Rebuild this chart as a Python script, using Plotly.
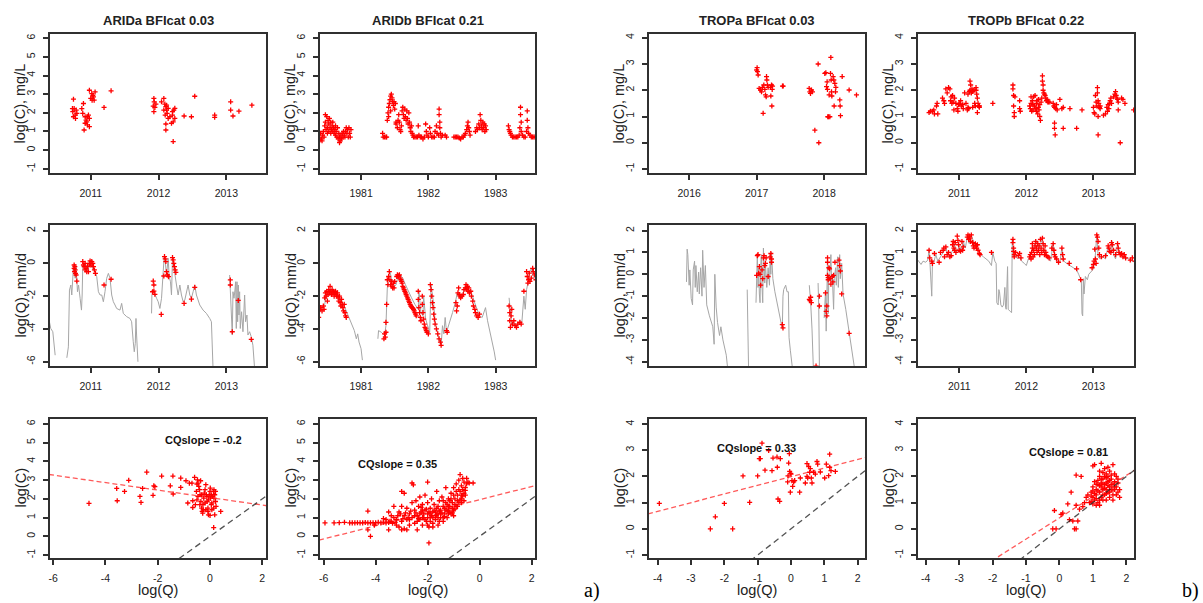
import plotly.graph_objects as go

FONT = "Arial, 'Liberation Sans', Helvetica, sans-serif"

titles = ["ARIDa BFIcat 0.03", "ARIDb BFIcat 0.21", "TROPa BFIcat 0.03", "TROPb BFIcat 0.22"]
year_ticks = [[2011, 2012, 2013], [1981, 1982, 1983], [2016, 2017, 2018], [2011, 2012, 2013]]
cq_slopes = [-0.2, 0.35, 0.33, 0.81]
cq_intercepts = [2.07, 1.96, 1.99, 0.42]
c_ticks = [[-1, 0, 1, 2, 3, 4, 5, 6], [-1, 0, 1, 2, 3, 4, 5, 6], [-1, 0, 1, 2, 3, 4], [-1, 0, 1, 2, 3, 4]]
q_ticks = [[-6, -4, -2, 0, 2], [-6, -4, -2, 0, 2], [-4, -3, -2, -1, 0, 1, 2], [-4, -3, -2, -1, 0, 1, 2]]
panel_tags = ["a)", "b)"]
row_ytitles = ["log(C), mg/L", "log(Q), mm/d", "log(C)"]
cq_xtitle = "log(Q)"

aridA_C = [
    (2010.745, 2.73), (2010.755, 2.23), (2010.735, 2.06), (2010.77, 1.88), (2010.745, 1.79),
    (2010.785, 2.15), (2010.795, 1.97), (2010.73, 2.23), (2010.775, 1.70), (2010.892, 2.50),
    (2010.882, 1.97), (2010.902, 1.08), (2010.917, 1.44), (2010.931, 1.61), (2010.951, 1.79),
    (2010.966, 1.88), (2010.98, 1.70), (2010.951, 1.35), (2010.941, 1.52), (2010.98, 1.26),
    (2010.917, 1.79), (2010.868, 2.23), (2010.98, 3.21), (2011.015, 3.03), (2011.04, 2.86),
    (2011.05, 2.68), (2011.0, 2.77), (2011.064, 3.12), (2011.03, 2.94), (2011.02, 2.68),
    (2011.196, 2.29), (2011.30, 3.18), (2011.931, 2.77), (2011.936, 2.59), (2011.922, 2.36),
    (2011.946, 2.29), (2011.931, 2.06), (2011.961, 2.47), (2012.044, 2.59), (2012.078, 2.77),
    (2012.093, 2.47), (2012.108, 2.33), (2012.118, 2.15), (2012.127, 1.97), (2012.098, 1.88),
    (2012.142, 2.24), (2012.118, 2.41), (2012.078, 2.15), (2012.108, 1.40), (2012.108, 1.08),
    (2012.216, 0.46), (2012.142, 1.70), (2012.167, 1.79), (2012.206, 1.88), (2012.225, 2.15),
    (2012.24, 2.24), (2012.216, 1.52), (2012.191, 1.44), (2012.24, 1.70), (2012.206, 2.06),
    (2012.377, 1.83), (2012.485, 1.79), (2012.534, 2.89), (2012.828, 1.88), (2012.828, 1.76),
    (2013.064, 2.59), (2013.064, 2.15), (2013.098, 1.83), (2013.186, 2.09), (2013.377, 2.41),
]
aridA_Q_line = [
    [(2010.39, -3.56), (2010.41, -3.97), (2010.44, -4.17), (2010.475, -5.6)],
    [(2010.647, -5.76), (2010.67, -5.09), (2010.686, -1.63), (2010.706, -1.32), (2010.72, -1.93),
     (2010.735, -1.12), (2010.745, -0.2), (2010.77, -0.91), (2010.784, -0.2), (2010.804, -1.73),
     (2010.82, -1.32), (2010.843, -2.13), (2010.863, -2.85), (2010.873, -1.93), (2010.882, -0.2),
     (2010.902, 0.0), (2010.92, -0.4), (2010.94, -0.1), (2010.96, -0.51), (2010.98, 0.11),
     (2011.0, 0.0), (2011.02, -0.2), (2011.04, -0.4), (2011.064, -0.51), (2011.088, -0.81),
     (2011.113, -1.73), (2011.137, -1.93), (2011.162, -1.93), (2011.186, -2.34), (2011.21, -1.73),
     (2011.235, -0.91), (2011.26, -0.61), (2011.284, -0.91), (2011.309, -1.93), (2011.333, -2.34),
     (2011.358, -2.54), (2011.382, -2.75), (2011.431, -2.85), (2011.456, -2.44), (2011.48, -3.05),
     (2011.53, -3.25), (2011.578, -3.36), (2011.603, -3.56), (2011.627, -4.78), (2011.642, -5.39),
     (2011.657, -4.88), (2011.667, -3.36), (2011.676, -4.37), (2011.696, -6.0)],
    [(2011.897, -3.05), (2011.902, -1.93), (2011.922, -1.63), (2011.946, -1.93), (2011.971, -2.13),
     (2011.995, -2.34), (2012.02, -2.75), (2012.044, -2.13), (2012.069, -0.81), (2012.083, 0.41),
     (2012.098, 0.11), (2012.118, -0.71), (2012.142, 0.31), (2012.157, -0.81), (2012.176, -1.12),
     (2012.191, -1.93), (2012.206, 0.31), (2012.225, -0.3), (2012.245, -0.91), (2012.265, -1.32),
     (2012.289, -1.93), (2012.314, -1.32), (2012.338, -1.93), (2012.363, -2.34), (2012.387, -2.24),
     (2012.412, -1.73), (2012.436, -1.32), (2012.461, -1.93), (2012.485, -2.13), (2012.51, -1.73),
     (2012.534, -1.32), (2012.559, -1.93), (2012.608, -2.54), (2012.657, -2.85), (2012.706, -3.05),
     (2012.755, -3.36), (2012.78, -3.56), (2012.804, -6.41)],
    [(2013.049, -0.71), (2013.059, -1.73), (2013.074, -3.87), (2013.088, -4.37), (2013.098, -1.73),
     (2013.113, -2.13), (2013.127, -1.63), (2013.137, -1.12), (2013.147, -3.97), (2013.157, -1.12),
     (2013.167, -3.56), (2013.176, -1.32), (2013.186, -3.15), (2013.196, -1.73), (2013.206, -3.97),
     (2013.225, -2.95), (2013.245, -4.17), (2013.27, -1.93), (2013.284, -3.56), (2013.304, -3.15),
     (2013.319, -4.37), (2013.343, -4.17), (2013.368, -4.48), (2013.392, -4.99), (2013.417, -6.41)],
]
aridA_Q_pts = [
    (2010.755, -0.10), (2010.755, -0.30), (2010.76, -0.51), (2010.765, -0.2), (2010.77, -0.40),
    (2010.775, -0.61), (2010.784, -0.71), (2010.794, -1.08), (2010.882, 0.11), (2010.892, -0.10),
    (2010.902, -0.2), (2010.917, -0.40), (2010.931, -0.30), (2010.951, -0.2), (2010.966, -0.51),
    (2010.98, 0.0), (2010.99, 0.15), (2011.0, -0.1), (2011.015, 0.11), (2011.03, 0.0),
    (2011.04, -0.2), (2011.054, -0.4), (2011.069, -0.61), (2010.941, -0.51), (2010.917, 0.0),
    (2011.196, -1.32), (2011.30, -0.97), (2011.922, -1.08), (2011.931, -1.32), (2011.931, -1.69),
    (2011.946, -1.89), (2011.912, -1.73), (2012.04, -3.11), (2012.078, -0.77), (2012.088, 0.41),
    (2012.098, 0.27), (2012.108, 0.11), (2012.118, -0.51), (2012.132, -0.71), (2012.147, -0.81),
    (2012.206, 0.35), (2012.216, 0.21), (2012.225, 0.0), (2012.235, -0.2), (2012.245, -0.4),
    (2012.255, -0.55), (2012.377, -2.44), (2012.485, -2.18), (2012.534, -1.46), (2013.059, -1.01),
    (2013.059, -1.32), (2013.088, -4.17), (2013.176, -2.26), (2013.368, -4.64),
]
aridA_CQ = [
    (-4.63, 1.76), (-3.57, 2.56), (-3.55, 1.90), (-3.27, 2.40), (-3.11, 2.99), (-2.68, 2.13),
    (-2.64, 1.81), (-2.58, 2.56), (-2.42, 3.43), (-2.15, 2.70), (-2.11, 2.65), (-2.18, 2.19),
    (-1.85, 3.22), (-1.52, 2.70), (-1.42, 3.22), (-1.41, 2.26), (-1.12, 3.11), (-1.12, 2.61),
    (-0.92, 2.97), (-0.85, 1.78), (-0.79, 2.84), (-0.69, 2.84), (-0.66, 1.90), (-0.66, 1.54),
    (-0.59, 3.15), (-0.52, 2.40), (-0.48, 3.02), (-0.46, 2.84), (-0.43, 2.67), (-0.40, 2.49),
    (-0.38, 2.22), (-0.35, 1.86), (-0.32, 1.51), (-0.30, 1.33), (-0.27, 1.69), (-0.24, 2.04),
    (-0.22, 2.31), (-0.19, 2.49), (-0.16, 2.76), (-0.14, 2.22), (-0.11, 1.86), (-0.08, 1.51),
    (-0.06, 1.15), (-0.03, 2.22), (0.0, 2.40), (0.02, 2.04), (0.05, 1.69), (0.07, 1.42),
    (0.10, 2.13), (0.13, 2.40), (0.15, 2.49), (0.18, 2.22), (0.21, 1.86), (0.23, 1.60),
    (-0.46, 2.13), (-0.39, 1.69), (-0.32, 2.22), (-0.26, 1.42), (-0.19, 1.78), (-0.12, 2.13),
    (-0.06, 1.95), (0.01, 2.58), (0.07, 1.78), (0.14, 1.51), (0.21, 2.40), (-0.56, 1.69),
    (-0.50, 1.95), (-0.28, 1.24), (-0.16, 1.42), (-0.08, 1.33), (0.0, 1.12), (0.05, 2.22),
    (0.15, 2.04), (0.18, 1.15), (0.41, 1.33), (0.14, 0.47), (-0.36, 2.97), (-0.50, 2.79),
]

aridB_C = [
    (1980.38, 0.7), (1980.39, 0.55), (1980.40, 0.9), (1980.41, 0.6), (1980.42, 0.5), (1980.43, 0.8),
    (1980.44, 1.0), (1980.45, 0.7), (1980.46, 1.3), (1980.47, 1.9), (1980.47, 1.5), (1980.48, 1.1),
    (1980.49, 1.8), (1980.50, 1.2), (1980.50, 0.9), (1980.51, 1.6), (1980.52, 1.4), (1980.52, 1.0),
    (1980.53, 1.7), (1980.54, 1.2), (1980.55, 1.5), (1980.55, 0.9), (1980.56, 1.1), (1980.57, 1.3),
    (1980.58, 1.0), (1980.58, 1.5), (1980.59, 1.2), (1980.60, 0.9), (1980.61, 1.1), (1980.62, 1.3),
    (1980.62, 0.8), (1980.63, 1.0), (1980.64, 0.7), (1980.65, 1.2), (1980.66, 0.6), (1980.67, 0.9),
    (1980.68, 0.4), (1980.68, 0.7), (1980.69, 0.5), (1980.70, 0.8), (1980.71, 0.6), (1980.72, 0.9),
    (1980.73, 0.7), (1980.74, 1.0), (1980.75, 0.8), (1980.76, 0.7), (1980.77, 1.0), (1980.78, 1.2),
    (1980.79, 0.9), (1980.80, 1.1), (1980.81, 0.7), (1980.82, 1.2), (1980.83, 0.9), (1980.84, 0.7),
    (1980.85, 1.1),
    (1981.32, 0.9), (1981.33, 0.7), (1981.35, 0.7), (1981.37, 0.7), (1981.38, 0.7),
    (1981.39, 1.6), (1981.40, 2.0), (1981.41, 2.3), (1981.42, 2.5), (1981.43, 2.7), (1981.44, 2.9),
    (1981.45, 3.0), (1981.46, 2.8), (1981.47, 2.6), (1981.48, 2.4), (1981.49, 2.6), (1981.50, 2.2),
    (1981.51, 2.5), (1981.52, 1.5), (1981.41, 1.8), (1981.44, 2.1),
    (1981.52, 1.4), (1981.54, 1.2), (1981.55, 1.6), (1981.56, 1.9), (1981.57, 1.5), (1981.58, 1.1),
    (1981.59, 1.0), (1981.60, 1.3), (1981.61, 2.1), (1981.62, 2.3), (1981.63, 1.9), (1981.64, 1.7),
    (1981.65, 2.2), (1981.66, 1.8), (1981.67, 1.6), (1981.68, 2.1), (1981.69, 1.7), (1981.70, 1.4),
    (1981.71, 2.0), (1981.72, 1.5), (1981.73, 1.2), (1981.74, 1.0), (1981.75, 1.3), (1981.76, 0.9),
    (1981.77, 0.8), (1981.78, 0.7), (1981.80, 0.7), (1981.82, 0.7), (1981.84, 0.7), (1981.85, 1.3),
    (1981.86, 0.8), (1981.88, 0.7), (1981.90, 0.7), (1981.92, 0.6), (1981.94, 0.7), (1981.96, 1.4),
    (1981.97, 1.0), (1981.98, 0.8), (1982.00, 0.7), (1982.02, 1.2), (1982.03, 0.9), (1982.05, 0.7),
    (1982.07, 0.7), (1982.09, 0.7), (1982.10, 1.0), (1982.12, 1.3), (1982.13, 0.9), (1982.15, 0.8),
    (1982.16, 2.2), (1982.16, 1.9), (1982.17, 1.5), (1982.17, 1.2), (1982.18, 0.9), (1982.19, 0.7),
    (1982.21, 0.8), (1982.25, 0.8), (1982.27, 0.7),
    (1982.38, 0.7), (1982.40, 0.7), (1982.42, 0.7), (1982.44, 0.7), (1982.46, 0.65), (1982.48, 0.6),
    (1982.50, 0.7), (1982.52, 0.7), (1982.54, 0.8), (1982.55, 0.9), (1982.57, 1.1), (1982.58, 1.3),
    (1982.59, 1.5), (1982.60, 1.2), (1982.61, 1.0), (1982.62, 0.8),
    (1982.70, 1.0), (1982.72, 1.2), (1982.73, 1.1), (1982.75, 1.4), (1982.76, 1.2), (1982.77, 1.9),
    (1982.78, 1.6), (1982.79, 1.3), (1982.80, 1.1), (1982.81, 1.5), (1982.82, 1.2), (1982.83, 1.4),
    (1982.84, 1.0), (1982.85, 1.3), (1982.86, 1.1),
    (1983.19, 1.3), (1983.20, 1.1), (1983.21, 1.0), (1983.22, 0.9), (1983.23, 0.8), (1983.25, 0.7),
    (1983.27, 0.7), (1983.29, 0.7), (1983.31, 0.7), (1983.33, 0.7), (1983.35, 0.8), (1983.36, 1.2),
    (1983.37, 2.3), (1983.37, 1.9), (1983.38, 1.5), (1983.38, 1.0), (1983.40, 0.8), (1983.42, 0.7),
    (1983.44, 0.7), (1983.46, 1.0), (1983.47, 2.1), (1983.47, 1.6), (1983.48, 1.2), (1983.49, 0.9),
    (1983.51, 0.8), (1983.53, 0.7), (1983.55, 0.7), (1983.57, 0.7), (1983.59, 0.7),
]
aridB_Q_line = [
    [(1980.37, -3.2), (1980.40, -2.8), (1980.43, -2.6), (1980.46, -2.5), (1980.48, -2.0), (1980.52, -1.7),
     (1980.56, -1.6), (1980.60, -1.7), (1980.65, -1.9), (1980.70, -2.2), (1980.75, -2.6), (1980.80, -3.1),
     (1980.85, -3.6), (1980.88, -3.8), (1980.90, -4.1), (1980.93, -4.6), (1980.95, -4.3), (1980.97, -4.8),
     (1981.00, -5.2), (1981.02, -5.9)],
    [(1981.25, -4.6), (1981.26, -4.1), (1981.30, -4.2), (1981.33, -4.3), (1981.35, -4.4), (1981.37, -3.8),
     (1981.38, -2.5), (1981.39, -1.5), (1981.41, -0.8), (1981.43, -0.5), (1981.45, -0.9), (1981.48, -1.2),
     (1981.50, -1.4), (1981.52, -1.3), (1981.55, -0.8), (1981.58, -0.7), (1981.62, -0.9), (1981.66, -1.3),
     (1981.70, -1.7), (1981.75, -2.1), (1981.80, -2.5), (1981.85, -2.8), (1981.86, -1.7), (1981.89, -3.0),
     (1981.92, -3.2), (1981.93, -2.0), (1981.96, -3.4), (1982.00, -3.9), (1982.02, -4.2), (1982.04, -1.3),
     (1982.08, -2.5), (1982.10, -3.5), (1982.13, -4.2), (1982.16, -4.7), (1982.19, -5.0), (1982.21, -3.8),
     (1982.23, -4.3), (1982.25, -3.3), (1982.27, -4.2), (1982.30, -3.8), (1982.33, -3.5), (1982.36, -3.0),
     (1982.40, -2.4), (1982.43, -1.8), (1982.46, -2.0), (1982.50, -2.1), (1982.53, -1.6), (1982.57, -1.3),
     (1982.60, -1.6), (1982.64, -1.8), (1982.68, -2.3), (1982.72, -2.8), (1982.76, -3.2), (1982.80, -3.3),
     (1982.85, -2.7), (1982.88, -3.5), (1982.92, -4.2), (1982.95, -4.8), (1982.98, -5.4), (1983.00, -5.9)],
    [(1983.20, -2.1), (1983.22, -3.0), (1983.24, -3.8), (1983.27, -3.6), (1983.30, -3.9), (1983.33, -3.7),
     (1983.36, -3.5), (1983.39, -3.6), (1983.42, -2.0), (1983.44, -2.8), (1983.46, -1.6), (1983.48, -1.2),
     (1983.50, -0.6), (1983.53, -0.3), (1983.56, -0.8), (1983.60, -1.0)],
]
aridB_Q_pts = [
    (1980.37, -3.3), (1980.39, -2.8), (1980.40, -2.7), (1980.42, -2.9), (1980.44, -2.6), (1980.45, -2.8),
    (1980.46, -2.1), (1980.47, -1.8), (1980.48, -2.0), (1980.49, -1.7), (1980.50, -2.3), (1980.51, -1.9),
    (1980.52, -1.6), (1980.53, -1.8), (1980.54, -1.4), (1980.55, -1.7), (1980.56, -1.9), (1980.57, -1.6),
    (1980.58, -1.8), (1980.59, -1.7), (1980.60, -2.0), (1980.61, -1.8), (1980.62, -1.7), (1980.63, -1.9),
    (1980.64, -2.0), (1980.65, -1.8), (1980.66, -2.1), (1980.67, -2.3), (1980.68, -2.0), (1980.69, -2.4),
    (1980.70, -2.6), (1980.71, -2.2), (1980.72, -2.5), (1980.73, -2.7), (1980.74, -2.9), (1980.75, -2.5),
    (1980.76, -3.0), (1980.77, -3.2), (1980.78, -3.3),
    (1981.34, -4.6), (1981.35, -4.3), (1981.36, -4.5), (1981.37, -3.6), (1981.37, -4.2), (1981.38, -2.5),
    (1981.39, -1.0), (1981.40, -1.3), (1981.41, -0.8), (1981.42, -0.5), (1981.43, -1.0), (1981.44, -1.3),
    (1981.45, -1.1), (1981.46, -1.4), (1981.47, -1.5), (1981.48, -1.2), (1981.49, -1.5), (1981.50, -1.1),
    (1981.53, -0.8), (1981.54, -0.7), (1981.55, -0.8), (1981.56, -0.75), (1981.57, -0.7), (1981.58, -0.9),
    (1981.59, -1.0), (1981.60, -1.1), (1981.61, -1.2), (1981.62, -1.4), (1981.63, -1.5), (1981.64, -1.6),
    (1981.65, -1.7), (1981.66, -1.8), (1981.67, -1.9), (1981.68, -2.0), (1981.69, -2.1), (1981.70, -2.2),
    (1981.71, -2.3), (1981.72, -2.4), (1981.73, -2.5), (1981.74, -2.6), (1981.75, -2.65), (1981.76, -2.7),
    (1981.77, -2.75), (1981.78, -2.8), (1981.79, -2.9), (1981.80, -3.0), (1981.81, -3.1), (1981.82, -3.2),
    (1981.85, -1.7), (1981.85, -2.2), (1981.86, -2.7), (1981.87, -3.0), (1981.88, -3.3), (1981.89, -3.5),
    (1981.91, -2.0), (1981.91, -2.5), (1981.92, -3.0), (1981.93, -3.4), (1981.94, -3.7), (1981.95, -3.9),
    (1981.96, -4.0), (1981.97, -4.1), (1981.98, -4.2), (1982.00, -4.3), (1982.03, -1.3), (1982.04, -1.6),
    (1982.05, -2.0), (1982.06, -2.4), (1982.07, -2.7), (1982.08, -3.1), (1982.09, -3.4), (1982.10, -3.7),
    (1982.12, -4.0), (1982.14, -4.3), (1982.16, -4.6), (1982.18, -4.8), (1982.19, -5.0), (1982.27, -4.1),
    (1982.28, -4.2),
    (1982.41, -2.4), (1982.42, -2.9), (1982.43, -2.6), (1982.44, -1.8), (1982.45, -1.5), (1982.46, -1.9),
    (1982.47, -2.0), (1982.48, -2.1), (1982.50, -2.0), (1982.52, -1.9), (1982.53, -1.6), (1982.55, -1.5),
    (1982.56, -1.3), (1982.57, -1.6), (1982.58, -1.4), (1982.59, -1.7), (1982.60, -1.5), (1982.61, -1.8),
    (1982.63, -1.7), (1982.64, -2.0), (1982.66, -2.3), (1982.67, -2.6), (1982.69, -2.8), (1982.70, -3.0),
    (1982.72, -3.2), (1982.74, -3.3), (1982.76, -3.1),
    (1983.20, -2.6), (1983.21, -3.0), (1983.21, -3.5), (1983.22, -3.9), (1983.23, -3.2), (1983.24, -2.8),
    (1983.25, -3.7), (1983.27, -3.5), (1983.29, -3.8), (1983.31, -3.9), (1983.33, -3.7), (1983.36, -3.6),
    (1983.38, -3.7), (1983.42, -1.7), (1983.46, -0.5), (1983.47, -0.8), (1983.48, -1.2), (1983.49, -1.0),
    (1983.50, -0.6), (1983.51, -1.1), (1983.53, -0.9), (1983.55, -0.3), (1983.56, -0.5), (1983.58, -0.7),
    (1983.60, -1.0),
]
aridB_CQ = [
    (-5.95, 0.72), (-5.6, 0.72), (-5.4, 0.73), (-5.2, 0.75), (-5.0, 0.72), (-4.9, 0.72), (-4.8, 0.72),
    (-4.7, 0.73), (-4.6, 0.72), (-4.5, 0.72), (-4.4, 0.74), (-4.3, 0.72), (-4.2, 0.72), (-4.1, 0.73),
    (-4.0, 0.72), (-3.9, 0.75), (-3.8, 0.72), (-3.7, 0.76), (-3.6, 0.72), (-3.5, 0.74), (-3.45, 0.8),
    (-3.35, 0.7), (-3.25, 0.75),
    (-4.2, 0.0), (-4.3, 0.35), (-3.5, 0.35), (-1.95, -0.35), (-4.3, 1.35), (-3.7, 0.95), (-4.05, 0.6),
    (-3.3, 1.0), (-3.2, 0.6), (-3.1, 1.3), (-3.0, 0.8), (-3.0, 1.6), (-2.9, 1.1), (-2.9, 0.4),
    (-2.8, 1.5), (-2.8, 0.9), (-2.7, 1.2), (-2.7, 0.6), (-2.6, 1.8), (-2.6, 1.0), (-2.6, 2.85),
    (-2.55, 2.75), (-2.5, 1.4), (-2.5, 0.7), (-2.45, 1.9), (-2.4, 1.1), (-2.4, 0.35), (-2.35, 1.6),
    (-2.3, 0.9), (-2.3, 2.1), (-2.25, 1.3), (-2.2, 0.6), (-2.2, 1.7), (-2.15, 1.0), (-2.1, 1.4),
    (-2.1, 2.2), (-2.05, 0.8), (-2.0, 1.2), (-2.0, 1.8), (-2.0, 2.9), (-1.95, 0.5), (-1.9, 1.0),
    (-1.9, 1.5), (-1.85, 2.0), (-1.8, 0.7), (-1.8, 1.3), (-1.75, 1.7), (-1.7, 0.9), (-1.7, 1.1),
    (-1.65, 1.5), (-1.65, 2.4), (-1.6, 0.6), (-1.6, 1.2), (-1.55, 1.9), (-1.5, 1.0), (-1.5, 1.4),
    (-1.45, 2.1), (-1.4, 0.8), (-1.4, 1.6), (-1.35, 1.2), (-1.3, 1.8), (-1.3, 2.6), (-1.25, 1.0),
    (-1.2, 1.4), (-1.2, 2.0), (-1.15, 1.6), (-1.1, 1.2), (-1.1, 2.3), (-1.05, 1.8), (-1.0, 1.4),
    (-1.0, 2.6), (-0.95, 2.0), (-0.9, 1.6), (-0.9, 2.8), (-0.85, 2.2), (-0.8, 1.8), (-0.8, 3.0),
    (-0.75, 2.4), (-0.75, 3.3), (-0.7, 2.0), (-0.7, 2.7), (-0.65, 3.1), (-0.6, 2.3), (-0.6, 2.9),
    (-0.55, 2.6), (-0.5, 3.1), (-0.5, 2.8), (-0.45, 2.9), (-0.4, 2.85), (-0.25, 2.85), (-0.6, 1.9),
    (-0.7, 1.8), (-1.0, 1.1), (-3.5, 1.3), (-3.4, 0.8), (-3.3, 1.6), (-3.1, 0.5), (-3.0, 2.4),
    (-2.9, 2.3), (-3.2, 0.9), (-3.0, 0.35), (-2.8, 0.35), (-3.6, 0.9), (-3.4, 1.1),
    (-2.3, 1.2), (-2.2, 1.0), (-2.1, 0.9), (-2.0, 1.0), (-1.9, 1.2), (-1.8, 1.0), (-1.7, 1.3),
    (-1.6, 1.0), (-1.5, 1.2), (-1.4, 1.0), (-1.3, 1.4), (-1.2, 1.2), (-1.9, 0.8), (-2.4, 0.8),
    (-2.2, 1.4), (-1.55, 0.8), (-1.35, 1.5), (-1.25, 1.7), (-1.15, 1.9), (-1.05, 1.5), (-0.95, 1.7),
    (-0.85, 1.9), (-1.6, 1.6), (-2.5, 1.1), (-2.7, 0.9), (-2.0, 0.6), (-1.8, 0.5), (-1.0, 2.2),
    (-0.9, 2.4), (-0.8, 2.5), (-0.7, 2.2), (-1.1, 2.0), (-1.2, 1.6), (-1.4, 1.9), (-0.65, 2.5),
    (-0.55, 2.2), (-2.45, 1.25), (-2.35, 0.95), (-2.25, 1.55), (-2.15, 1.2), (-2.05, 1.45),
    (-1.95, 1.3), (-1.85, 1.1), (-1.75, 1.4), (-1.65, 1.15), (-1.55, 1.35), (-1.45, 1.25),
    (-1.35, 1.05), (-1.25, 1.35), (-1.15, 1.3), (-1.05, 1.25), (-0.95, 1.45), (-0.85, 1.6),
    (-0.75, 1.95), (-0.65, 2.15), (-0.55, 2.45), (-2.85, 1.25), (-2.65, 1.35), (-2.75, 1.0),
    (-3.15, 1.1), (-3.05, 1.2), (-2.95, 0.95),
]

tropA_C = [
    (2017.0, 2.77), (2017.007, 2.86), (2017.012, 2.71), (2017.022, 2.58), (2017.037, 2.07),
    (2017.057, 2.01), (2017.072, 1.94), (2017.086, 2.11), (2017.096, 1.12), (2017.106, 2.20),
    (2017.121, 2.03), (2017.131, 1.82), (2017.141, 1.75), (2017.146, 2.52), (2017.151, 2.39),
    (2017.16, 2.20), (2017.17, 2.11), (2017.205, 2.11), (2017.21, 1.78), (2017.22, 2.20),
    (2017.225, 1.40), (2017.23, 2.03), (2017.235, 2.16), (2017.383, 2.16), (2017.393, 2.16),
    (2017.778, 2.07), (2017.788, 1.94), (2017.798, 1.88), (2017.812, 2.01), (2017.827, 1.94),
    (2017.862, 0.48), (2017.911, 3.0), (2017.921, 0.0), (2018.01, 2.64), (2018.025, 2.67),
    (2018.035, 2.14), (2018.044, 2.32), (2018.049, 2.03), (2018.054, 0.99), (2018.064, 0.99),
    (2018.074, 1.82), (2018.084, 0.99), (2018.094, 2.64), (2018.099, 3.25), (2018.104, 2.39),
    (2018.109, 1.94), (2018.114, 1.78), (2018.133, 2.52), (2018.143, 2.39), (2018.148, 1.40),
    (2018.158, 2.26), (2018.168, 1.94), (2018.173, 2.11), (2018.232, 1.63), (2018.237, 1.40),
    (2018.242, 1.03), (2018.267, 2.52), (2018.37, 2.01), (2018.479, 1.82),
]
tropA_Q_line = [
    [(2015.96, -0.35), (2015.97, 1.15), (2015.98, 0.9), (2016.0, -0.5), (2016.01, 0.2), (2016.03, -1.1),
     (2016.05, -1.4), (2016.06, 0.2), (2016.08, 0.6), (2016.09, -0.6), (2016.1, 0.4), (2016.12, -0.8),
     (2016.14, 0.1), (2016.15, -0.9), (2016.17, 0.3), (2016.19, -1.0), (2016.2, 1.1), (2016.22, -0.6),
     (2016.24, 0.4), (2016.26, -1.4), (2016.3, -1.9), (2016.35, -2.4), (2016.37, -3.2), (2016.38, 0.0),
     (2016.40, -1.5), (2016.42, -2.2), (2016.45, -2.8), (2016.47, -2.4), (2016.5, -3.0), (2016.53, -3.5),
     (2016.55, -3.7), (2016.57, -4.3)],
    [(2016.86, -0.7), (2016.88, -4.3)],
    [(2016.99, -1.3), (2017.0, 0.0), (2017.01, 0.9), (2017.02, -0.6), (2017.03, 0.3), (2017.04, -0.9),
     (2017.05, -1.3), (2017.06, 0.4), (2017.07, 0.9), (2017.08, -0.6), (2017.09, -1.3), (2017.10, 1.2),
     (2017.11, 0.0), (2017.12, -0.4), (2017.13, 0.5), (2017.15, -0.6), (2017.17, 0.3), (2017.19, -0.5),
     (2017.2, 0.9), (2017.21, 0.0), (2017.22, 1.0), (2017.24, -0.2), (2017.27, -0.8), (2017.30, -1.3),
     (2017.33, -1.8), (2017.36, -2.2), (2017.38, -2.5), (2017.39, -1.0), (2017.40, -0.7), (2017.43, -0.5),
     (2017.45, -0.8), (2017.47, -0.8), (2017.48, -2.9), (2017.50, -3.5), (2017.53, -4.3)],
    [(2017.78, -0.5), (2017.79, -1.2), (2017.80, -1.3), (2017.82, -2.5), (2017.84, -4.3)],
    [(2017.91, -0.4), (2017.92, -1.5), (2017.93, -4.3)],
    [(2018.0, -2.0), (2018.02, -0.8), (2018.03, -2.6), (2018.05, 0.7), (2018.06, -1.8), (2018.07, 0.0),
     (2018.08, -0.3), (2018.10, 0.9), (2018.11, -0.3), (2018.12, 0.0), (2018.14, -1.6), (2018.15, -0.2),
     (2018.17, 0.3), (2018.18, -0.5), (2018.2, 0.8), (2018.21, -0.6), (2018.23, 0.9), (2018.24, -0.2),
     (2018.26, 0.5), (2018.28, -0.9), (2018.32, -1.6), (2018.36, -2.4), (2018.40, -3.2), (2018.45, -4.3)],
]
tropA_Q_pts = [
    (2017.01, 0.85), (2017.02, 0.9), (2017.0, -0.05), (2017.03, 0.05), (2017.04, 0.35), (2017.05, 0.0),
    (2017.06, -0.5), (2017.08, 0.2), (2017.09, -0.2), (2017.10, 0.75), (2017.11, 0.85), (2017.12, 0.4),
    (2017.13, 0.5), (2017.14, 0.75), (2017.17, -0.1), (2017.2, 0.8), (2017.21, 0.95), (2017.22, 0.7),
    (2017.22, 0.55), (2017.38, -2.3), (2017.39, -2.45), (2017.78, -1.15), (2017.79, -1.2), (2017.80, -1.05),
    (2017.81, -1.3), (2017.88, -4.2), (2017.93, -1.0), (2017.93, -1.45), (2018.02, -0.85), (2018.03, -1.7),
    (2018.04, -1.45), (2018.04, -1.9), (2018.05, 0.75), (2018.05, 0.55), (2018.05, -0.05), (2018.06, -0.15),
    (2018.06, -0.25), (2018.07, 0.3), (2018.08, 0.25), (2018.09, -0.2), (2018.1, -0.45), (2018.12, -0.1),
    (2018.13, -0.35), (2018.14, -0.05), (2018.16, 0.55), (2018.22, 0.65), (2018.23, 0.4), (2018.24, 0.15),
    (2018.26, -0.9), (2018.37, -2.7),
]
tropA_CQ = [
    (-3.95, 0.97), (-2.42, 0.0), (-2.27, 0.46), (-2.0, 0.97), (-1.75, 0.0), (-1.44, 2.02), (-1.24, 1.01),
    (-1.0, 2.02), (-0.95, 2.68), (-0.92, 2.68), (-0.87, 3.27), (-0.78, 2.24), (-0.67, 2.99), (-0.57, 2.22),
    (-0.54, 2.70), (-0.42, 2.74), (-0.41, 2.35), (-0.39, 1.14), (-0.34, 1.05), (-0.32, 2.68), (-0.1, 1.79),
    (-0.09, 2.02), (-0.07, 2.51), (-0.05, 2.87), (-0.04, 2.19), (-0.02, 1.40), (-0.01, 2.12), (0.0, 2.09),
    (0.03, 1.84), (0.05, 1.62), (0.08, 1.79), (0.11, 1.84), (0.26, 1.40), (0.28, 1.94), (0.43, 1.75),
    (0.48, 2.49), (0.48, 2.0), (0.5, 1.94), (0.53, 2.38), (0.56, 2.16), (0.58, 2.30), (0.61, 1.94),
    (0.63, 1.75), (0.68, 2.16), (0.73, 2.09), (0.78, 2.57), (0.8, 2.47), (0.88, 2.17), (1.01, 1.94),
    (1.06, 2.47), (1.13, 2.03), (1.16, 2.85), (1.16, 2.35), (1.2, 2.22), (1.33, 2.19),
]

tropB_C = [
    (2010.55, 1.15), (2010.57, 1.2), (2010.6, 1.2), (2010.62, 1.25), (2010.63, 1.1), (2010.66, 1.4),
    (2010.67, 1.5), (2010.68, 1.1), (2010.75, 1.7), (2010.77, 1.6), (2010.78, 1.5), (2010.8, 2.05),
    (2010.82, 1.9), (2010.84, 2.1), (2010.86, 2.05), (2010.87, 1.6), (2010.88, 1.75), (2010.89, 1.5),
    (2010.9, 1.8), (2010.91, 1.55), (2010.92, 1.25), (2010.93, 1.7), (2010.95, 1.5), (2010.97, 1.3),
    (2010.98, 1.2), (2010.99, 1.45), (2011.0, 1.5), (2011.02, 1.6), (2011.03, 1.4), (2011.05, 1.45),
    (2011.06, 1.3), (2011.08, 1.9), (2011.1, 1.5), (2011.12, 1.25), (2011.13, 1.85), (2011.13, 1.35),
    (2011.14, 1.3), (2011.15, 1.95), (2011.16, 2.0), (2011.16, 2.35), (2011.17, 2.2), (2011.18, 1.9),
    (2011.19, 2.05), (2011.2, 1.95), (2011.2, 1.35), (2011.22, 2.0), (2011.23, 1.5), (2011.24, 1.4),
    (2011.25, 2.0), (2011.25, 2.1), (2011.26, 1.85), (2011.27, 1.7), (2011.27, 1.15), (2011.28, 1.5),
    (2011.29, 1.4), (2011.3, 1.4), (2011.3, 1.35), (2011.5, 1.5),
    (2011.8, 2.2), (2011.8, 2.05), (2011.81, 1.8), (2011.81, 1.4), (2011.82, 1.15), (2011.82, 1.0),
    (2011.83, 1.75), (2011.9, 1.6), (2011.9, 1.3), (2011.91, 1.2),
    (2012.05, 1.4), (2012.06, 1.3), (2012.07, 1.5), (2012.07, 1.75), (2012.08, 1.2), (2012.09, 1.6),
    (2012.1, 1.45), (2012.1, 1.25), (2012.11, 1.75), (2012.12, 1.4), (2012.13, 1.8), (2012.14, 1.3),
    (2012.15, 1.5), (2012.15, 1.2), (2012.16, 1.6), (2012.17, 1.1), (2012.18, 1.35), (2012.18, 1.65),
    (2012.19, 1.25), (2012.2, 1.45), (2012.2, 1.0), (2012.21, 0.85), (2012.22, 1.55), (2012.23, 1.7),
    (2012.24, 2.55), (2012.24, 2.35), (2012.25, 2.2), (2012.25, 2.0), (2012.26, 1.9), (2012.27, 1.85),
    (2012.28, 1.8), (2012.29, 1.7), (2012.3, 1.6), (2012.31, 1.65), (2012.32, 1.55), (2012.33, 1.55),
    (2012.35, 1.55), (2012.4, 1.5), (2012.41, 1.4), (2012.42, 1.35), (2012.42, 0.75), (2012.42, 0.55),
    (2012.43, 0.3), (2012.44, 1.3), (2012.45, 1.45), (2012.46, 1.25), (2012.5, 1.65), (2012.53, 1.3),
    (2012.55, 1.35), (2012.55, 0.55), (2012.65, 1.3), (2012.75, 0.55), (2012.83, 1.25),
    (2013.0, 1.35), (2013.01, 1.15), (2013.02, 1.1), (2013.03, 1.8), (2013.04, 1.55), (2013.05, 1.4),
    (2013.06, 2.1), (2013.06, 1.9), (2013.07, 1.6), (2013.07, 1.0), (2013.07, 0.3), (2013.08, 1.5),
    (2013.09, 1.35), (2013.1, 1.4), (2013.1, 1.3), (2013.15, 1.05), (2013.18, 1.1), (2013.2, 1.35),
    (2013.21, 1.2), (2013.22, 1.45), (2013.23, 1.3), (2013.24, 1.5), (2013.25, 1.6), (2013.26, 1.7),
    (2013.27, 1.5), (2013.3, 1.75), (2013.32, 1.85), (2013.33, 1.95), (2013.34, 1.8), (2013.35, 1.7),
    (2013.36, 1.65), (2013.37, 1.55), (2013.37, 1.25), (2013.4, 0.0), (2013.42, 1.7), (2013.44, 1.65),
    (2013.47, 1.5), (2013.6, 1.25),
]
tropB_Q_line = [
    [(2010.37, 0.7), (2010.4, 0.6), (2010.43, 0.45), (2010.46, 0.6), (2010.5, 0.55), (2010.53, 0.65),
     (2010.55, 1.1), (2010.56, 0.7), (2010.57, 0.2), (2010.58, -0.7), (2010.59, -1.0), (2010.6, 0.5),
     (2010.62, 0.55), (2010.65, 0.9), (2010.68, 0.6), (2010.72, 0.8), (2010.76, 1.0), (2010.8, 1.2),
     (2010.83, 0.9), (2010.86, 0.8), (2010.9, 1.1), (2010.93, 1.4), (2010.96, 1.0), (2011.0, 1.3),
     (2011.03, 1.1), (2011.06, 1.5), (2011.09, 1.2), (2011.12, 1.7), (2011.15, 1.4), (2011.18, 1.8),
     (2011.22, 1.4), (2011.25, 1.2), (2011.28, 1.1), (2011.32, 0.9), (2011.36, 0.8), (2011.4, 0.7),
     (2011.44, 0.6), (2011.48, 0.4), (2011.5, 1.0), (2011.53, 0.6), (2011.55, 0.5), (2011.56, -1.3),
     (2011.58, -1.4), (2011.59, -0.7), (2011.6, -0.8), (2011.62, -1.4), (2011.64, -1.5), (2011.66, -1.4),
     (2011.68, -0.6), (2011.69, -1.5), (2011.7, -1.6), (2011.72, 0.35), (2011.73, -1.6), (2011.76, -1.7),
     (2011.78, -1.75), (2011.79, 1.6), (2011.8, 0.8), (2011.83, 0.9), (2011.87, 0.7), (2011.9, 0.8),
     (2011.93, 0.6), (2011.97, 0.5), (2012.0, 0.4), (2012.03, 0.7), (2012.06, 0.9), (2012.09, 1.1),
     (2012.12, 1.3), (2012.15, 1.5), (2012.18, 1.2), (2012.21, 1.4), (2012.24, 1.6), (2012.27, 1.0),
     (2012.3, 0.8), (2012.33, 0.7), (2012.36, 0.6), (2012.4, 1.4), (2012.43, 0.8), (2012.46, 0.6),
     (2012.5, 0.55), (2012.53, 1.2), (2012.56, 0.6), (2012.6, 0.5), (2012.65, 0.4), (2012.7, 0.3),
     (2012.75, 0.2), (2012.78, 0.0), (2012.8, -0.2), (2012.82, -0.3), (2012.83, -1.8), (2012.84, -1.9),
     (2012.85, -0.2), (2012.86, -0.9), (2012.88, -0.1), (2012.91, -0.25), (2012.93, 0.0), (2012.96, 0.1),
     (2012.99, 0.2), (2013.02, 0.5), (2013.05, 1.8), (2013.07, 0.8), (2013.1, 0.7), (2013.14, 0.8),
     (2013.18, 0.7), (2013.22, 1.3), (2013.25, 1.0), (2013.28, 1.5), (2013.3, 0.9), (2013.33, 0.7),
     (2013.36, 1.4), (2013.4, 0.9), (2013.44, 0.8), (2013.48, 0.7), (2013.52, 0.75), (2013.55, 0.65),
     (2013.58, 0.6), (2013.62, 0.55)],
]
tropB_Q_pts = [
    (2010.55, 1.1), (2010.56, 0.75), (2010.59, 0.6), (2010.6, 0.5), (2010.63, 0.95), (2010.7, 0.55),
    (2010.72, 1.0), (2010.76, 1.1), (2010.77, 1.2), (2010.78, 0.8), (2010.8, 1.25), (2010.82, 0.9),
    (2010.84, 1.0), (2010.86, 0.8), (2010.88, 0.85), (2010.9, 1.35), (2010.91, 1.5), (2010.92, 1.2),
    (2010.93, 1.1), (2010.94, 1.45), (2010.95, 1.0), (2010.97, 1.75), (2010.98, 1.55), (2010.99, 1.35),
    (2011.0, 1.1), (2011.02, 1.05), (2011.04, 1.5), (2011.05, 1.1), (2011.06, 1.25), (2011.12, 1.7),
    (2011.13, 1.8), (2011.14, 1.6), (2011.15, 1.75), (2011.16, 1.65), (2011.17, 1.5), (2011.18, 1.8),
    (2011.2, 1.45), (2011.21, 1.3), (2011.22, 1.2), (2011.24, 1.4), (2011.25, 1.3), (2011.26, 1.2),
    (2011.27, 1.35), (2011.28, 1.1), (2011.3, 0.95), (2011.31, 0.9), (2011.48, 1.0),
    (2011.8, 1.6), (2011.8, 1.45), (2011.81, 1.2), (2011.81, 1.05), (2011.82, 0.9), (2011.82, 0.8),
    (2011.84, 1.0), (2011.88, 0.85), (2011.9, 0.95), (2011.92, 0.75),
    (2012.05, 0.8), (2012.06, 0.9), (2012.07, 0.7), (2012.08, 1.0), (2012.09, 1.2), (2012.09, 1.4),
    (2012.1, 0.8), (2012.11, 1.1), (2012.12, 0.9), (2012.13, 1.3), (2012.14, 1.5), (2012.15, 1.2),
    (2012.16, 1.0), (2012.17, 1.4), (2012.18, 1.1), (2012.19, 1.3), (2012.2, 0.9), (2012.21, 1.6),
    (2012.22, 1.2), (2012.23, 1.0), (2012.24, 1.65), (2012.25, 1.4), (2012.26, 1.1), (2012.27, 0.9),
    (2012.28, 1.3), (2012.29, 1.0), (2012.3, 0.85), (2012.32, 0.8), (2012.34, 0.75), (2012.38, 1.2),
    (2012.4, 1.4), (2012.41, 1.1), (2012.42, 0.9), (2012.43, 0.8), (2012.45, 0.7), (2012.48, 0.55),
    (2012.53, 1.2), (2012.54, 0.9), (2012.55, 0.7), (2012.64, 0.5), (2012.75, 0.25), (2012.81, -0.25),
    (2012.98, 0.3), (2013.0, 0.45), (2013.01, 0.6), (2013.02, 1.15), (2013.03, 0.7), (2013.04, 0.5),
    (2013.05, 1.8), (2013.06, 1.7), (2013.07, 1.5), (2013.08, 1.2), (2013.09, 0.9), (2013.12, 0.8),
    (2013.18, 0.85), (2013.22, 1.3), (2013.23, 1.2), (2013.24, 1.05), (2013.26, 1.0), (2013.27, 1.45),
    (2013.28, 1.35), (2013.3, 1.1), (2013.33, 0.9), (2013.36, 1.4), (2013.37, 1.2), (2013.38, 1.0),
    (2013.4, 0.9), (2013.42, 0.95), (2013.44, 0.8), (2013.46, 0.9), (2013.48, 0.75), (2013.55, 0.65),
    (2013.58, 0.75), (2013.62, 0.6),
]
tropB_CQ = [
    (-0.15, 0.7), (-0.2, 0.0), (-0.1, 0.0), (0.05, 0.55), (0.1, 0.6), (0.25, 0.95), (0.3, 0.35),
    (0.35, 1.4), (0.4, 0.3), (0.45, 0.0), (0.5, 0.0), (0.55, 0.3), (0.5, 0.9), (0.5, 2.05), (0.6, 0.75),
    (0.65, 2.0), (0.7, 0.85), (0.75, 1.0), (0.8, 1.2), (0.85, 1.3), (0.9, 1.0),
    (0.95, 1.4), (1.0, 1.2), (1.0, 1.6), (1.05, 1.1), (1.05, 1.8), (1.1, 1.3), (1.1, 1.5), (1.15, 1.0),
    (1.15, 1.7), (1.2, 1.4), (1.2, 2.0), (1.25, 1.2), (1.25, 1.6), (1.3, 1.5), (1.3, 1.9), (1.35, 1.3),
    (1.35, 1.7), (1.4, 1.5), (1.4, 2.1), (1.45, 1.4), (1.45, 1.8), (1.5, 1.6), (1.5, 2.2), (1.55, 1.5),
    (1.55, 1.9), (1.6, 1.7), (1.6, 1.3), (1.65, 1.8), (1.65, 1.5), (1.7, 1.6), (1.7, 2.0), (1.75, 1.4),
    (1.75, 1.75), (1.8, 1.5), (1.8, 1.2), (0.95, 1.05), (1.0, 0.95), (1.1, 0.9), (1.2, 0.9), (1.3, 1.1),
    (1.4, 1.1), (1.5, 1.2), (1.6, 1.1), (1.0, 2.4), (1.05, 2.45), (1.25, 2.5), (1.35, 2.3), (1.45, 2.35),
    (1.6, 2.45), (1.2, 2.2), (1.3, 2.15), (1.4, 1.95), (1.5, 1.85), (1.25, 1.75), (1.15, 1.45),
    (1.05, 1.35), (0.95, 1.25), (1.1, 1.15), (1.35, 1.55), (1.45, 1.65), (1.55, 1.7), (1.65, 1.6),
    (1.75, 1.9), (1.7, 1.3), (1.2, 1.1), (1.3, 1.3), (1.4, 1.35), (1.5, 1.4), (1.6, 1.5), (1.35, 2.0),
    (1.25, 1.9), (1.15, 1.85), (1.45, 2.0), (1.55, 2.05), (1.65, 2.1), (1.2, 1.65), (1.3, 1.7),
    (1.4, 1.75), (1.1, 1.7), (1.0, 1.45),
]

catchments = [
    (aridA_C, aridA_Q_line, aridA_Q_pts, aridA_CQ),
    (aridB_C, aridB_Q_line, aridB_Q_pts, aridB_CQ),
    (tropA_C, tropA_Q_line, tropA_Q_pts, tropA_CQ),
    (tropB_C, tropB_Q_line, tropB_Q_pts, tropB_CQ),
]

# ---------------- layout geometry ----------------
W, H = 1203, 603
col_px = [(49, 267), (319, 536), (648, 866), (917, 1135)]
row_px = [(33, 174), (224, 367), (418, 559)]
time_ranges = [(2010.384, 2013.6), (1980.375, 1983.6), (2015.39, 2018.62), (2010.37, 2013.62)]
c_ranges = [(-1.28, 6.28), (-1.28, 6.28), (-1.19, 4.18), (-1.19, 4.18)]
q_ranges = [(-6.32, 2.4), (-6.32, 2.4), (-4.24, 2.3), (-4.24, 2.3)]
cq_xranges = [(-6.16, 2.18), (-6.18, 2.17), (-4.29, 2.25), (-4.26, 2.26)]
cq_yranges = [(-1.21, 6.32), (-1.21, 6.32), (-1.15, 4.23), (-1.15, 4.23)]
cq_label_pos = [(-0.26, 5.16), (-3.17, 3.86), (-1.04, 3.08), (0.27, 2.93)]

RED = "#ff0000"
GREY = "#a6a6a6"
AX = "#303030"
TICKLEN = 5


def fx(p):
    return p / W


def fy(p):
    return 1 - p / H


def xdom(c):
    return [fx(col_px[c][0]), fx(col_px[c][1])]


def ydom(r):
    return [fy(row_px[r][1]), fy(row_px[r][0])]


def axis(domain, rng, tickvals, anchor, is_y, show=True):
    d = dict(
        domain=domain, range=list(rng), anchor=anchor,
        tickmode="array", tickvals=tickvals, ticktext=[str(v) for v in tickvals],
        showline=False, showgrid=False, zeroline=False, fixedrange=True,
        ticks="outside" if show else "", ticklen=TICKLEN, tickwidth=2, tickcolor=AX,
        showticklabels=show,
        tickfont=dict(family=FONT, size=10.5, color="#222222"),
        ticklabelstandoff=4,
    )
    if is_y:
        d["tickangle"] = -90
    return d


def unzip(pairs):
    return [p[0] for p in pairs], [p[1] for p in pairs]


fig = go.Figure()
layout = dict(
    width=W, height=H, margin=dict(l=0, r=0, t=0, b=0), autosize=False,
    paper_bgcolor="white", plot_bgcolor="white", showlegend=False,
    font=dict(family=FONT, color="#222222"),
)
annotations = []
shapes = []

mk = dict(symbol="cross-thin", size=3.6, color=RED, line=dict(width=1.3, color=RED))


def ann(x, y, text, size, **kw):
    d = dict(x=x, y=y, xref="paper", yref="paper", text=text, showarrow=False,
             xanchor="center", yanchor="middle", font=dict(family=FONT, size=size, color="#222222"))
    d.update(kw)
    return d


for c in range(4):
    cC, cQline, cQpts, cCQ = catchments[c]
    for r in range(3):
        k = r * 4 + c + 1
        xa = "x" if k == 1 else f"x{k}"
        ya = "y" if k == 1 else f"y{k}"
        xkey = "xaxis" if k == 1 else f"xaxis{k}"
        ykey = "yaxis" if k == 1 else f"yaxis{k}"
        if r == 0:
            layout[xkey] = axis(xdom(c), time_ranges[c], year_ticks[c], ya, False)
            layout[ykey] = axis(ydom(r), c_ranges[c], c_ticks[c], xa, True)
            x, y = unzip(cC)
            fig.add_trace(go.Scatter(x=x, y=y, mode="markers", marker=mk, xaxis=xa, yaxis=ya))
        elif r == 1:
            layout[xkey] = axis(xdom(c), time_ranges[c], year_ticks[c], ya, False, show=(c != 2))
            layout[ykey] = axis(ydom(r), q_ranges[c], q_ticks[c], xa, True)
            lx, ly = [], []
            for seg in cQline:
                sx, sy = unzip(seg)
                lx += sx + [None]
                ly += sy + [None]
            fig.add_trace(go.Scatter(x=lx, y=ly, mode="lines", line=dict(color=GREY, width=1),
                                     xaxis=xa, yaxis=ya, connectgaps=False))
            x, y = unzip(cQpts)
            fig.add_trace(go.Scatter(x=x, y=y, mode="markers", marker=mk, xaxis=xa, yaxis=ya))
        else:
            layout[xkey] = axis(xdom(c), cq_xranges[c], q_ticks[c], ya, False)
            layout[ykey] = axis(ydom(r), cq_yranges[c], c_ticks[c], xa, True)
            x, y = unzip(cCQ)
            fig.add_trace(go.Scatter(x=x, y=y, mode="markers", marker=mk, xaxis=xa, yaxis=ya))
            x0, x1 = cq_xranges[c]
            b, a = cq_slopes[c], cq_intercepts[c]
            fig.add_trace(go.Scatter(x=[x0, x1], y=[a + b * x0, a + b * x1], mode="lines",
                                     line=dict(color="rgba(255,0,0,0.65)", width=1.3, dash="5px,3px"),
                                     xaxis=xa, yaxis=ya))
            fig.add_trace(go.Scatter(x=[x0, x1], y=[x0, x1], mode="lines",
                                     line=dict(color="rgba(40,40,40,0.8)", width=1.3, dash="6px,4px"),
                                     xaxis=xa, yaxis=ya))
            lx, ly = cq_label_pos[c]
            annotations.append(dict(x=lx, y=ly, xref=xa, yref=ya, text=f"<b>CQslope = {cq_slopes[c]}</b>",
                                    showarrow=False, xanchor="center", yanchor="middle",
                                    font=dict(family=FONT, size=11, color="#111111")))
            annotations.append(ann(fx((col_px[c][0] + col_px[c][1]) / 2), fy(590), cq_xtitle, 14.5))
        # panel frame: one paper-referenced and one domain-referenced outline (they coincide)
        shapes.append(dict(type="rect", xref="paper", yref="paper",
                           x0=xdom(c)[0], x1=xdom(c)[1], y0=ydom(r)[0], y1=ydom(r)[1],
                           layer="above", line=dict(color=AX, width=2)))
        shapes.append(dict(type="rect", xref=f"{xa} domain", yref=f"{ya} domain",
                           x0=0, x1=1, y0=0, y1=1, layer="above", line=dict(color=AX, width=2)))
        annotations.append(ann(fx(col_px[c][0] - 29), fy((row_px[r][0] + row_px[r][1]) / 2),
                               row_ytitles[r], 14.5, textangle=-90))
    annotations.append(ann(fx((col_px[c][0] + col_px[c][1]) / 2), fy(20.5), f"<b>{titles[c]}</b>", 13))

serif = "'Liberation Serif', 'Times New Roman', serif"
annotations.append(ann(fx(592), fy(590), panel_tags[0], 20, font=dict(family=serif, size=20, color="black")))
annotations.append(ann(fx(1190), fy(590), panel_tags[1], 20, font=dict(family=serif, size=20, color="black")))
layout["annotations"] = annotations
layout["shapes"] = shapes
fig.update_layout(**layout)
fig.write_html("out.html", config={"displayModeBar": False},
               post_script="document.body.style.margin='0px';")
